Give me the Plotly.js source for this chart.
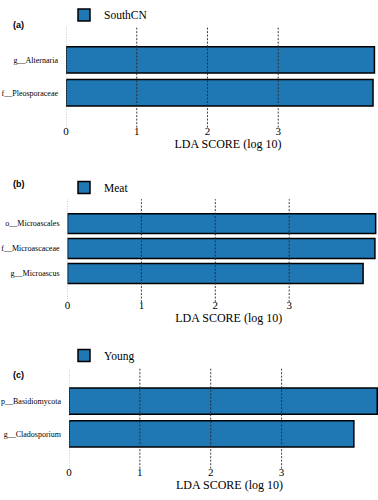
<!DOCTYPE html>
<html><head><meta charset="utf-8">
<script src="https://cdn.plot.ly/plotly-3.0.1.min.js"></script>
<style>html,body{margin:0;padding:0;overflow:hidden;width:378px;height:500px;background:#fff}</style>
</head><body><div id="chart" style="width:390px;height:500px"></div>
<script>
const groupA = 'SouthCN';
const taxaA = ['f__Pleosporaceae', 'g__Alternaria'];
const scoresA = [4.34, 4.36];
const groupB = 'Meat';
const taxaB = ['g__Microascus', 'f__Microascaceae', 'o__Microascales'];
const scoresB = [4.00, 4.16, 4.17];
const groupC = 'Young';
const taxaC = ['g__Cladosporium', 'p__Basidiomycota'];
const scoresC = [4.02, 4.35];
const xTicks = [0, 1, 2, 3];
const panelLabels = ['(a)', '(b)', '(c)'];

const W = 390, H = 500;
const BLUE = '#1f77b4';
const serif = '"Liberation Serif", "Times New Roman", serif';

function barTrace(name, taxa, scores, xa, ya, leg) {
  return {
    type: 'bar', orientation: 'h', name: name,
    x: scores, y: taxa, xaxis: xa, yaxis: ya, legend: leg,
    width: 0.8,
    marker: {color: BLUE, line: {color: '#000', width: 1.5}},
    showlegend: true, hoverinfo: 'x+y'
  };
}

const data = [
  barTrace(groupA, taxaA, scoresA, 'x', 'y', 'legend'),
  barTrace(groupB, taxaB, scoresB, 'x2', 'y2', 'legend2'),
  barTrace(groupC, taxaC, scoresC, 'x3', 'y3', 'legend3')
];

function xAxis(anchor, left, rmax) {
  return {
    anchor: anchor, domain: [left / W, 1], range: [0, rmax],
    tickvals: xTicks, ticks: '', showline: false, zeroline: false,
    showgrid: false,
    tickfont: {family: serif, size: 11, color: '#000'},
    ticklabelstandoff: -5,
    title: {text: 'LDA SCORE (log 10)', font: {family: serif, size: 12, color: '#000'}, standoff: 3},
    automargin: false, fixedrange: true
  };
}
function yAxis(anchor, taxa, top, bottom, range) {
  return {
    anchor: anchor, domain: [(H - bottom) / H, (H - top) / H],
    type: 'category', categoryorder: 'array', categoryarray: taxa,
    range: range, ticks: '', showline: false, zeroline: false, showgrid: false,
    tickfont: {family: serif, size: 8, color: '#000'},
    ticklabelstandoff: 7, automargin: false, fixedrange: true
  };
}
function legendAt(py) {
  return {
    x: 64 / W, xanchor: 'left', y: (H - py) / H, yanchor: 'middle',
    font: {family: serif, size: 11.5, color: '#000'},
    bgcolor: 'rgba(0,0,0,0)', borderwidth: 0, itemwidth: 30
  };
}
function panelLabel(txt, py) {
  return {
    text: '<b>' + txt + '</b>', xref: 'paper', yref: 'paper',
    x: 11 / W, xanchor: 'left', y: (H - py) / H, yanchor: 'middle',
    showarrow: false, font: {family: '"Liberation Sans", Arial, sans-serif', size: 9, color: '#000'}
  };
}
// dashed vertical grid lines at the tick values, drawn above the bars
function gridShapes(xref, yref) {
  return xTicks.map((v, i) => ({
    type: 'line', xref: xref, yref: yref + ' domain', x0: v, x1: v, y0: 0, y1: 1,
    layer: 'above',
    line: {color: i === 0 ? '#9a9a9a' : '#2a2a2a', width: i === 0 ? 1 : 0.9, dash: i === 0 ? '1px,1.5px' : '2px,1.5px'}
  }));
}

const layout = {
  width: W, height: H,
  margin: {l: 0, r: 0, t: 0, b: 0, pad: 0},
  paper_bgcolor: '#fff', plot_bgcolor: '#fff',
  bargap: 0.2,
  xaxis: xAxis('y', 66, 4.58),
  yaxis: yAxis('x', taxaA, 17, 120, [-1.06, 2.01]),
  xaxis2: xAxis('y2', 67.5, 4.364),
  yaxis2: yAxis('x2', taxaB, 193, 298, [-1.14, 2.98]),
  xaxis3: xAxis('y3', 69, 4.53),
  yaxis3: yAxis('x3', taxaC, 366, 468, [-1.06, 1.99]),
  legend: legendAt(5),
  legend2: legendAt(181),
  legend3: legendAt(352.5),
  shapes: [].concat(gridShapes('x', 'y'), gridShapes('x2', 'y2'), gridShapes('x3', 'y3')),
  annotations: [
    panelLabel(panelLabels[0], 15),
    panelLabel(panelLabels[1], 178),
    panelLabel(panelLabels[2], 372)
  ]
};

Plotly.newPlot('chart', data, layout, {displayModeBar: false, staticPlot: true});
</script>
</body></html>
